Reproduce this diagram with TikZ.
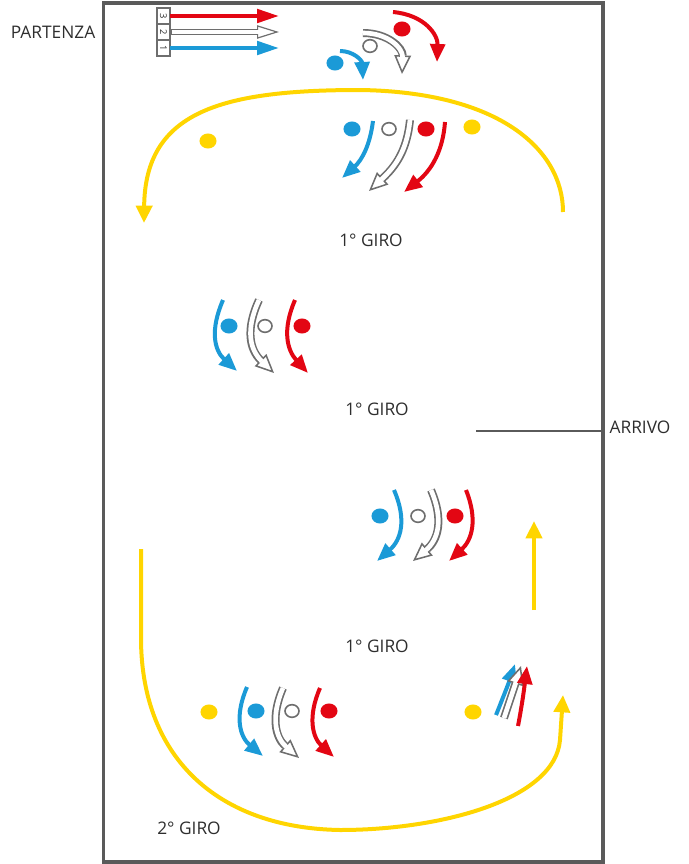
\documentclass[tikz,border=0pt]{standalone}
\usepackage{fontspec}
\setmainfont{Open Sans}
\usetikzlibrary{arrows.meta,shapes.geometric}
\definecolor{cred}{HTML}{E30613}
\definecolor{cblue}{HTML}{1B9AD7}
\definecolor{cyel}{HTML}{FFD500}
\definecolor{cgray}{HTML}{6E6E6E}
\definecolor{frame}{HTML}{5A5A5A}
\definecolor{txt}{HTML}{2E2E2E}
\newcommand\hollowarr[1]{%
  \draw[line width=6pt, cgray, -{Triangle[length=14pt,width=12.5pt,fill=white,line width=1.15pt]}] #1;
  \draw[line width=3.5pt, white, shorten >=12.5pt] #1;}
\begin{document}
\begin{tikzpicture}[x=0.75pt,y=-0.75pt,
  lbl/.style={font=\fontsize{13}{15}\selectfont, text=txt, inner sep=0pt},
  ball/.style={ellipse, inner sep=0pt, minimum width=12.8pt, minimum height=11.3pt},
  rball/.style={ball, fill=cred},
  bball/.style={ball, fill=cblue},
  yball/.style={ball, fill=cyel},
  hball/.style={ellipse, inner sep=0pt, minimum width=10.5pt, minimum height=9.5pt, draw=cgray, line width=1.2pt, fill=white},
  carr/.style={line width=3pt, -{Triangle[length=13.5pt,width=11pt]}},
  yarr/.style={line width=3pt, cyel, -{Triangle[length=13pt,width=12pt]}},
  harr/.style={line width=3pt, -{Triangle[length=16.5pt,width=10pt]}}
]
\useasboundingbox (0,0) rectangle (689,864);
% frame
\draw[frame, line width=2.3pt] (103.5,3) rectangle (603,862);
\coordinate (arrA) at (476,431);
\coordinate (arrB) at (603,431);
\draw[frame, line width=2pt] (arrA) -- (arrB);

% labels
\node[lbl] (partenza) at (53,32) {PARTENZA};
\node[lbl] (arrivo) at (640,427) {ARRIVO};
\node[lbl] (g1a) at (371,240) {1° GIRO};
\node[lbl] (g1b) at (377,409) {1° GIRO};
\node[lbl] (g1c) at (377,646) {1° GIRO};
\node[lbl] (g2) at (189,828) {2° GIRO};

% start box
\draw[cgray, line width=1.1pt] (157,8) rectangle (170,56);
\draw[cgray, line width=1.1pt] (157,24) -- (170,24) (157,40) -- (170,40);
\node[rotate=-90, font=\fontsize{7}{7}\selectfont, text=txt, inner sep=0] (n3) at (163.5,16) {3};
\node[rotate=-90, font=\fontsize{7}{7}\selectfont, text=txt, inner sep=0] (n2) at (163.5,32) {2};
\node[rotate=-90, font=\fontsize{7}{7}\selectfont, text=txt, inner sep=0] (n1) at (163.5,48) {1};
\draw[harr, cred] (170,16) -- (279,16);
\draw[harr, cblue] (170,48) -- (279,48);
\draw[line width=4.8pt, cgray, -{Triangle[length=16.5pt,width=10pt,fill=white,line width=0.9pt]}] (170,32) -- (279,32);
\draw[line width=2.8pt, white, shorten >=15pt] (171.5,32) -- (279,32);

% top swirl
\node[rball] (r0) at (402,29) {};
\node[hball] (g0) at (370,46) {};
\node[bball] (b0) at (335,63) {};
\draw[carr, cred] (393,12) .. controls (425,15) and (438,35) .. (437,62);
\hollowarr{(363,33) .. controls (388,33) and (403,48) .. (402,74)}
\draw[carr, cblue] (340,51) .. controls (353,51) and (362,60) .. (363,80);

% yellow top arc
\draw[yarr] (563,212) .. controls (563,150) and (500,92) .. (360,90) .. controls (220,90) and (145,112) .. (144,223);

% group 2
\node[yball] (y1) at (208,141) {};
\node[bball] (b1) at (352,129) {};
\node[hball] (g1) at (389,129) {};
\node[rball] (r1) at (426,129) {};
\node[yball] (y2) at (472,127) {};
\draw[carr, cblue] (373,121) .. controls (370,145) and (362,160) .. (342,178);
\hollowarr{(410,120) .. controls (407,150) and (396,166) .. (369,191)}
\draw[carr, cred] (445,122) .. controls (443,150) and (432,170) .. (404,192);

% group 3
\node[bball] (b2) at (229,326) {};
\node[hball] (g2b) at (265,326) {};
\node[rball] (r2) at (302,326) {};
\draw[carr, cblue] (223,300) .. controls (210,330) and (214,350) .. (237,371);
\hollowarr{(259,300) .. controls (245,330) and (250,350) .. (274,373)}
\draw[carr, cred] (295,300) .. controls (282,330) and (287,350) .. (308,373);

% group 4
\node[bball] (b3) at (380,516) {};
\node[hball] (g3) at (418,516) {};
\node[rball] (r3) at (455,516) {};
\draw[carr, cblue] (394,490) .. controls (407,520) and (401,540) .. (377,561);
\hollowarr{(431,490) .. controls (444,520) and (438,540) .. (413,561)}
\draw[carr, cred] (466,490) .. controls (478,520) and (472,540) .. (449,561);

% yellow straight arrow
\coordinate (ys) at (534,610);
\coordinate (ye) at (534,521);
\draw[yarr] (ys) -- (ye);

% group 5
\node[yball] (y3) at (209,712) {};
\node[bball] (b4) at (256,711) {};
\node[hball] (g4) at (292,711) {};
\node[rball] (r4) at (329,711) {};
\draw[carr, cblue] (247,687) .. controls (234,717) and (240,737) .. (263,756);
\hollowarr{(283,688) .. controls (270,718) and (276,738) .. (299,758)}
\draw[carr, cred] (320,688) .. controls (307,718) and (313,738) .. (334,757);

% up arrows
\node[yball] (y4) at (473,712) {};
\draw[carr, cblue] (496,715) .. controls (502,700) and (508,685) .. (515,664);
\hollowarr{(504,718) .. controls (510,700) and (515,685) .. (521,666)}
\draw[carr, cred] (518,726) .. controls (522,705) and (524,690) .. (527,666);

% yellow bottom arc
\draw[yarr] (141,549) -- (141,640) .. controls (142,760) and (220,828) .. (340,830) .. controls (440,830) and (555,800) .. (560,740) -- (563,695);
\end{tikzpicture}
\end{document}
